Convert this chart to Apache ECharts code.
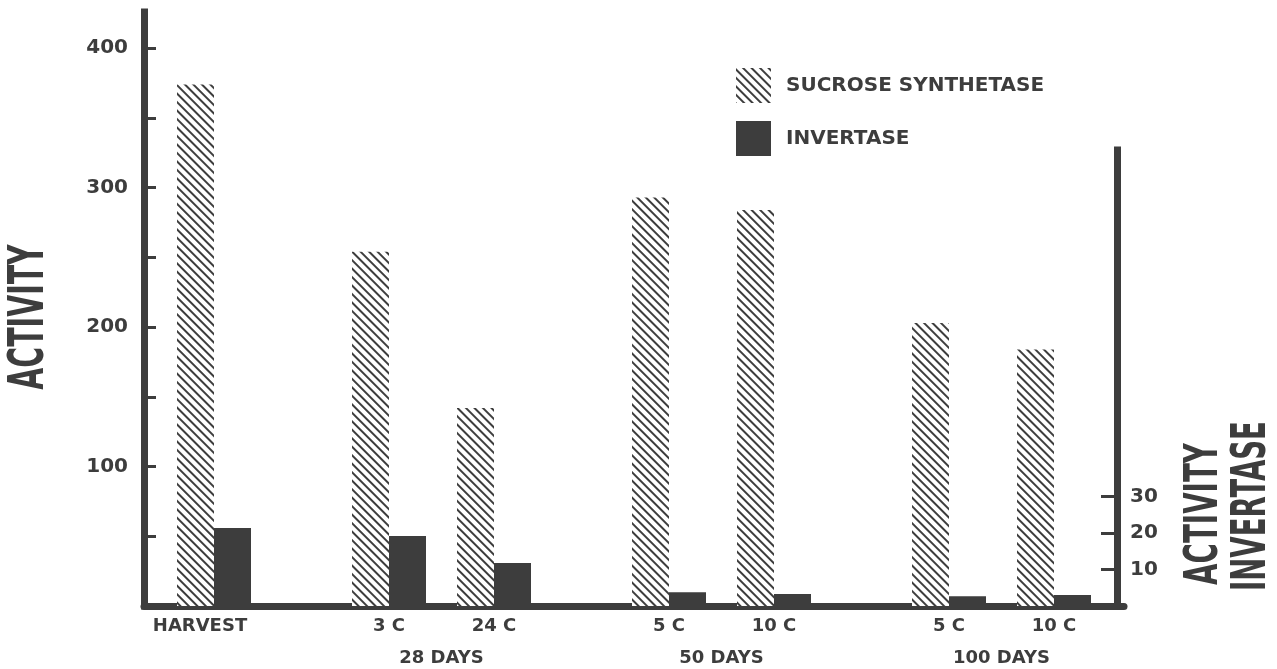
<!DOCTYPE html>
<html>
<head>
<meta charset="utf-8">
<script src="https://cdn.jsdelivr.net/npm/echarts@6/dist/echarts.min.js"></script>
<style>
html,body{margin:0;padding:0;background:#fff;}
#chart{width:1277px;height:669px;}
</style>
</head>
<body>
<div id="chart"></div>
<script>
// ---- data ----
const groupNames = ['', '28 DAYS', '50 DAYS', '100 DAYS'];
const groupCats = [['HARVEST'], ['3 C', '24 C'], ['5 C', '10 C'], ['5 C', '10 C']];
const sucroseSynthetase = [374, 254, 142, 293, 284, 203, 184];
const invertase = [21.4, 19.2, 11.8, 3.8, 3.3, 2.7, 3.0];
const leftTickValues = [50, 100, 150, 200, 250, 300, 350, 400];
const leftLabelValues = [100, 200, 300, 400];
const rightTickValues = [10, 20, 30];
const seriesNames = ['SUCROSE SYNTHETASE', 'INVERTASE'];

// ---- layout of the category slots (half units) ----
const LEAD = 4, WITHIN = 6, BETWEEN = 10, TOTAL = 57;
const slotCats = new Array(TOTAL).fill('');
const slotGroups = new Array(TOTAL).fill('');
const slotSS = new Array(TOTAL).fill(null);
const slotInv = new Array(TOTAL).fill(null);
let idx = LEAD, k = 0, firstSlot = null;
groupCats.forEach((cats, g) => {
  let first = null, last = null;
  cats.forEach((c, j) => {
    if (j > 0) idx += WITHIN; else if (g > 0) idx += BETWEEN;
    slotCats[idx] = c;
    slotSS[idx] = sucroseSynthetase[k];
    slotInv[idx] = invertase[k];
    if (first === null) first = idx;
    if (firstSlot === null) firstSlot = idx;
    last = idx;
    k++;
  });
  slotGroups[Math.round((first + last) / 2)] = groupNames[g];
});

const INK = '#3d3d3d';
const FONT = '"DejaVu Sans", sans-serif';
const gridTop0 = 12, gridTop1 = 150, gridBottomY = 606, H = 669;
const rightMax1 = 125;
const rightMax0 = rightMax1 * (gridBottomY - gridTop0) / (gridBottomY - gridTop1);

const chart = echarts.init(document.getElementById('chart'), null, {renderer: 'canvas'});
chart.setOption({
  backgroundColor: '#ffffff',
  animation: false,
  grid: [
    {left: 144, right: 153, top: gridTop0, bottom: H - gridBottomY},
    {left: 144, right: 153, top: gridTop1, bottom: H - gridBottomY}
  ],
  legend: {
    data: seriesNames,
    orient: 'vertical',
    left: 736, top: 68,
    itemWidth: 35, itemHeight: 35, itemGap: 18,
    icon: 'rect',
    padding: 0,
    textStyle: {fontFamily: FONT, fontWeight: 'bold', fontSize: 20, color: INK, padding: [0, 0, 0, 10]}
  },
  xAxis: [
    {
      type: 'category', gridIndex: 0, data: slotCats, boundaryGap: false,
      axisLine: {lineStyle: {color: INK, width: 7}},
      axisTick: {show: false},
      axisLabel: {
        interval: 0, margin: 11, fontFamily: FONT, fontWeight: 'bold', fontSize: 18, color: INK,
        formatter: (v, i) => (i === firstSlot ? '{h|' + v + '}' : v),
        rich: {h: {fontFamily: FONT, fontWeight: 'bold', fontSize: 18, color: INK, padding: [0, 28, 0, 0]}}
      }
    },
    {
      type: 'category', gridIndex: 0, data: slotGroups, boundaryGap: false, position: 'bottom',
      axisLine: {show: false}, axisTick: {show: false},
      axisLabel: {interval: 0, margin: 43, fontFamily: FONT, fontWeight: 'bold', fontSize: 18, color: INK}
    },
    {
      type: 'category', gridIndex: 1, data: slotCats, boundaryGap: false, show: false
    }
  ],
  yAxis: [
    {
      type: 'value', gridIndex: 0, min: 0, max: 426, position: 'left',
      splitLine: {show: false},
      axisLine: {show: true, lineStyle: {color: INK, width: 7, cap: 'square'}},
      axisTick: {show: true, inside: true, length: 12, customValues: leftTickValues, lineStyle: {color: INK, width: 3}},
      axisLabel: {customValues: leftLabelValues, margin: 16, padding: [0, 0, 10, 0], fontFamily: FONT, fontWeight: 'bold', fontSize: 20, color: INK}
    },
    {
      type: 'value', gridIndex: 0, min: 0, max: rightMax0, position: 'right', show: false
    },
    {
      type: 'value', gridIndex: 1, min: 0, max: rightMax1, position: 'right', offset: -7,
      splitLine: {show: false},
      axisLine: {show: true, lineStyle: {color: INK, width: 7, cap: 'square'}},
      axisTick: {show: true, inside: true, length: 16, customValues: rightTickValues, lineStyle: {color: INK, width: 3}},
      axisLabel: {customValues: rightTickValues, margin: 13, padding: [0, 0, 8, 0], fontFamily: FONT, fontWeight: 'bold', fontSize: 20, color: INK}
    }
  ],
  series: [
    {
      name: seriesNames[0], type: 'bar', xAxisIndex: 0, yAxisIndex: 0,
      data: slotSS, barWidth: 37, barGap: '0%',
      itemStyle: {
        color: '#ffffff',
        decal: {symbol: 'rect', symbolSize: 1, color: INK, dashArrayX: [1, 0], dashArrayY: [2, 4], rotation: Math.PI / 4}
      }
    },
    {
      name: seriesNames[1], type: 'bar', xAxisIndex: 0, yAxisIndex: 1,
      data: slotInv, barWidth: 37, barGap: '0%',
      itemStyle: {color: INK}
    }
  ],
  graphic: [
    {type: 'text', x: 30, y: 317, rotation: Math.PI / 2, scaleX: 0.58,
     style: {text: 'ACTIVITY', font: 'bold 49px ' + FONT, fill: INK, align: 'center', verticalAlign: 'middle'}},
    {type: 'text', x: 1205, y: 514, rotation: Math.PI / 2, scaleX: 0.59,
     style: {text: 'ACTIVITY', font: 'bold 47px ' + FONT, fill: INK, align: 'center', verticalAlign: 'middle'}},
    {type: 'text', x: 1253, y: 506, rotation: Math.PI / 2, scaleX: 0.573,
     style: {text: 'INVERTASE', font: 'bold 48px ' + FONT, fill: INK, align: 'center', verticalAlign: 'middle'}}
  ]
});
</script>
</body>
</html>
